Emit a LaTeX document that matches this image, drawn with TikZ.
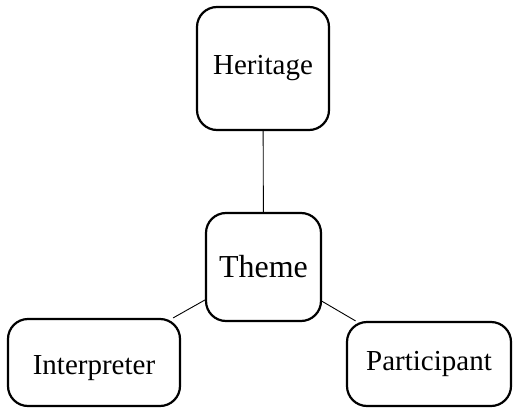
\documentclass[tikz,border=0pt]{standalone}
\usepackage{fontspec}
\setmainfont{Liberation Serif}
\begin{document}
\begin{tikzpicture}[x=1pt,y=-1pt,
  box/.style={draw, line width=2.2pt, rounded corners=20pt, inner sep=0pt,
    font=\fontsize{29}{34}\selectfont},
  link/.style={draw, line width=0.9pt}]
\useasboundingbox (0,0) rectangle (513,409);
% rounded boxes, sized and placed explicitly
\node[box, minimum width=132pt, minimum height=123pt] (heritage) at (263,68.5) {Heritage};
\node[box, minimum width=115pt, minimum height=108pt, font=\fontsize{32}{38}\selectfont] (theme) at (263.5,267) {Theme};
\node[box, minimum width=172pt, minimum height=87pt] (interp) at (94,362.5) {\raisebox{-6pt}[\height][\depth]{Interpreter}};
\node[box, minimum width=164pt, minimum height=84pt] (partic) at (429,364) {Participant};
% connectors from the central node
\draw[link] (heritage) -- (theme);
\draw[link] (theme) -- (interp);
\draw[link] (theme) -- (partic);
\end{tikzpicture}
\end{document}
